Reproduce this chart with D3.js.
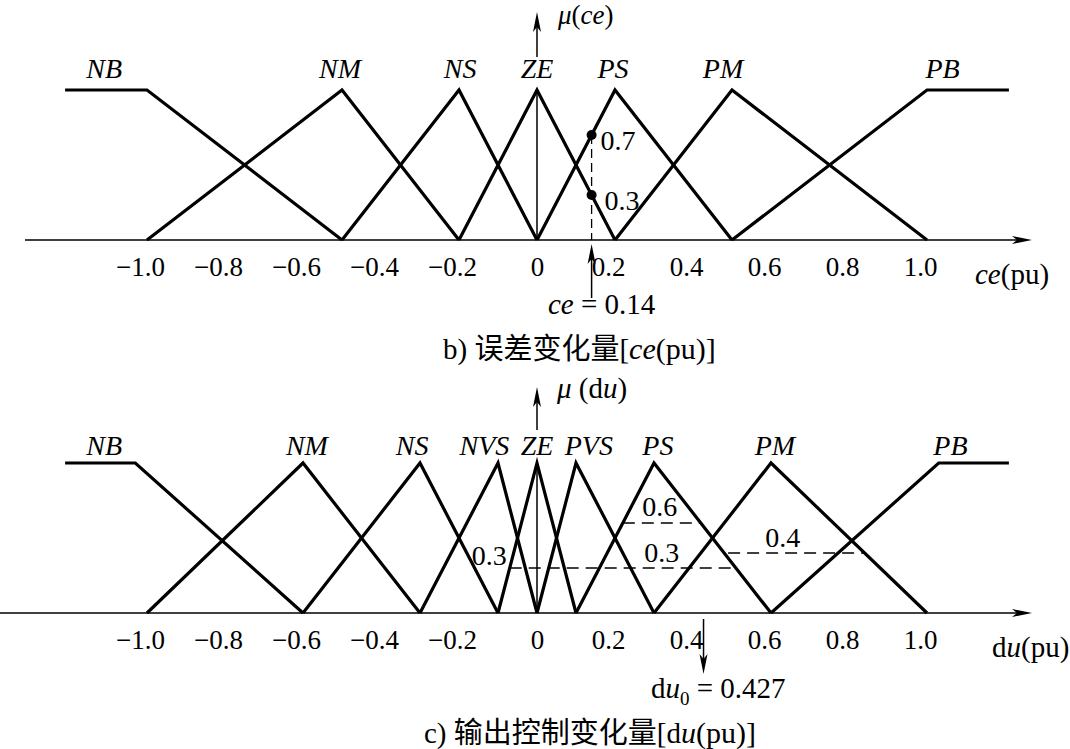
<!DOCTYPE html>
<html lang="zh">
<head>
  <meta charset="UTF-8">
  <title>Fuzzy membership functions</title>
  <style>
    body { margin: 0; background: #fff; }
    svg { display: block; }
    text { font-family: "Liberation Serif", "Noto Sans CJK SC", serif; fill: #000; }
    .it { font-style: italic; }
    .tick text { font-size: 27px; }
  </style>
</head>
<body>
  <svg id="chart" width="1070" height="749"></svg>

  <script src="https://cdn.jsdelivr.net/npm/d3@7"></script>
  <script type="text/javascript">

    // ---- panel b: ce ----
    var ceTicks = [-1.0, -0.8, -0.6, -0.4, -0.2, 0, 0.2, 0.4, 0.6, 0.8, 1.0];
    var ceNames = ["NB", "NM", "NS", "ZE", "PS", "PM", "PB"];
    var ceSets = [
      [[-1.21, 1], [-1.0, 1], [-0.5, 0]],
      [[-1.0, 0], [-0.5, 1], [-0.2, 0]],
      [[-0.5, 0], [-0.2, 1], [0, 0]],
      [[-0.2, 0], [0, 1], [0.2, 0]],
      [[0, 0], [0.2, 1], [0.5, 0]],
      [[0.2, 0], [0.5, 1], [1.0, 0]],
      [[0.5, 0], [1.0, 1], [1.21, 1]]
    ];
    var ceLabelAt = [-1.11, -0.505, -0.197, 0, 0.195, 0.477, 1.04];
    var ceInput = 0.14;
    var ceHits = [0.7, 0.3];

    // ---- panel c: du ----
    var duTicks = [-1.0, -0.8, -0.6, -0.4, -0.2, 0, 0.2, 0.4, 0.6, 0.8, 1.0];
    var duNames = ["NB", "NM", "NS", "NVS", "ZE", "PVS", "PS", "PM", "PB"];
    var duSets = [
      [[-1.21, 1], [-1.03, 1], [-0.6, 0]],
      [[-1.0, 0], [-0.6, 1], [-0.3, 0]],
      [[-0.6, 0], [-0.3, 1], [-0.1, 0]],
      [[-0.3, 0], [-0.1, 1], [0, 0]],
      [[-0.1, 0], [0, 1], [0.1, 0]],
      [[0, 0], [0.1, 1], [0.3, 0]],
      [[0.1, 0], [0.3, 1], [0.6, 0]],
      [[0.3, 0], [0.6, 1], [1.0, 0]],
      [[0.6, 0], [1.03, 1], [1.21, 1]]
    ];
    var duLabelAt = [-1.11, -0.59, -0.32, -0.135, 0, 0.133, 0.31, 0.61, 1.06];
    var cutLevel = [0.3, 0.6, 0.4];
    var cutFrom = [-0.07, 0.22, 0.49];
    var cutTo = [0.51, 0.42, 0.84];
    var duOut = 0.427;

    var svg = d3.select("#chart");
    var x = d3.scaleLinear().domain([-1, 1]).range([147, 927]);
    var fmt = function (d) { return d === 0 ? "0" : d3.format(".1f")(d); };

    function arrow(g, ax, ay, dir) {
      var L = 20, W = 4, n = 15, pts;
      if (dir === "right") pts = [[ax, ay], [ax - L, ay - W], [ax - n, ay], [ax - L, ay + W]];
      if (dir === "up") pts = [[ax, ay], [ax - W, ay + L], [ax, ay + n], [ax + W, ay + L]];
      if (dir === "down") pts = [[ax, ay], [ax - W, ay - L], [ax, ay - n], [ax + W, ay - L]];
      g.append("path").attr("d", "M" + pts.join("L") + "Z").attr("fill", "#000");
    }

    function vline(g, xx, y1, y2, w) {
      g.append("line").attr("x1", xx).attr("x2", xx).attr("y1", y1).attr("y2", y2)
        .attr("stroke", "#000").attr("stroke-width", w || 1.5);
    }

    function drawPanel(p) {
      var y = d3.scaleLinear().domain([0, 1]).range([p.base, p.base - 150]);
      var g = svg.append("g");

      // horizontal axis
      g.append("line").attr("x1", p.axisStart).attr("x2", 1020)
        .attr("y1", y(0)).attr("y2", y(0)).attr("stroke", "#000").attr("stroke-width", 1.6);
      arrow(g, 1032, y(0), "right");

      // vertical axis, broken round the ZE label
      vline(g, x(0), y(0), y(1));
      vline(g, x(0), p.yTop + 10, y(1) - 33);
      arrow(g, x(0), p.yTop, "up");

      var ax = g.append("g").attr("transform", "translate(0," + y(0) + ")")
        .call(d3.axisBottom(x).tickValues(p.ticks).tickSize(0).tickFormat(fmt));
      ax.select(".domain").remove();
      ax.selectAll(".tick text").attr("dy", null).attr("y", 36)
        .attr("dx", function (d) { return d === 0 ? 0 : -7; });

      var line = d3.line().x(function (d) { return x(d[0]); }).y(function (d) { return y(d[1]); });
      g.selectAll(".mf").data(p.sets).join("path")
        .attr("class", "mf")
        .attr("d", line)
        .attr("fill", "none").attr("stroke", "#000").attr("stroke-width", 3.2)
        .attr("stroke-linejoin", "miter");

      g.selectAll(".mf-label").data(p.names).join("text")
        .attr("class", "mf-label it")
        .attr("x", function (d, i) { return x(p.labelAt[i]); })
        .attr("y", y(1) - p.labelGap)
        .attr("text-anchor", "middle")
        .style("font-size", "28px")
        .text(function (d) { return d; });

      return { g: g, y: y };
    }

    function title(g, tx, ty, cjk, it, tail) {
      var t = g.append("text").attr("x", tx).attr("y", ty).style("font-size", "30px");
      t.append("tspan").style("font-size", "29px").text(cjk);
      t.append("tspan").attr("class", "it").text(it);
      t.append("tspan").text(tail);
    }

    // ---------- panel b ----------
    var b = drawPanel({ base: 240, yTop: 12, axisStart: 25, ticks: ceTicks, sets: ceSets, names: ceNames, labelAt: ceLabelAt, labelGap: 12 });
    var gb = b.g, yb = b.y;

    gb.append("line").attr("x1", x(ceInput)).attr("x2", x(ceInput))
      .attr("y1", yb(ceHits[0])).attr("y2", yb(0))
      .attr("stroke", "#000").attr("stroke-width", 1.3).attr("stroke-dasharray", "9,5");
    vline(gb, x(ceInput), yb(0) + 18, 298, 1.5);
    arrow(gb, x(ceInput), yb(0) + 4, "up");

    gb.selectAll(".hit").data(ceHits).join("circle")
      .attr("cx", x(ceInput)).attr("cy", function (d) { return yb(d); }).attr("r", 5);
    gb.selectAll(".hit-label").data(ceHits).join("text")
      .attr("x", function (d, i) { return x(ceInput) + (i === 0 ? 9 : 13); })
      .attr("y", function (d) { return yb(d) + 15; })
      .style("font-size", "28px")
      .text(function (d) { return d3.format(".1f")(d); });

    var ceTxt = gb.append("text").attr("x", x(ceInput) + 10).attr("y", 314)
      .attr("text-anchor", "middle").style("font-size", "29px");
    ceTxt.append("tspan").attr("class", "it").text("ce");
    ceTxt.append("tspan").text(" = " + ceInput);

    var muB = gb.append("text").attr("x", 558).attr("y", 24).style("font-size", "27px");
    muB.append("tspan").attr("class", "it").text("μ");
    muB.append("tspan").text("(");
    muB.append("tspan").attr("class", "it").text("ce");
    muB.append("tspan").text(")");

    var axB = gb.append("text").attr("x", 975).attr("y", 284).style("font-size", "29px");
    axB.append("tspan").attr("class", "it").text("ce");
    axB.append("tspan").text("(pu)");

    title(gb, 443, 359, "b) 误差变化量[", "ce", "(pu)]");

    // ---------- panel c ----------
    var c = drawPanel({ base: 613, yTop: 387, axisStart: 0, ticks: duTicks, sets: duSets, names: duNames, labelAt: duLabelAt, labelGap: 8 });
    var gc = c.g, yc = c.y;

    gc.selectAll(".cut").data(cutLevel).join("line")
      .attr("x1", function (d, i) { return x(cutFrom[i]); })
      .attr("x2", function (d, i) { return x(cutTo[i]); })
      .attr("y1", function (d) { return yc(d); })
      .attr("y2", function (d) { return yc(d); })
      .attr("stroke", "#000").attr("stroke-width", 1.3).attr("stroke-dasharray", "12,7");

    // labels of the clipping levels
    var cutText = [
      { v: cutLevel[0], x: x(cutFrom[0]) - 38, dy: -3 },
      { v: cutLevel[0], x: x(0.275), dy: -6 },
      { v: cutLevel[1], x: x(0.27), dy: -7 },
      { v: cutLevel[2], x: x(0.585), dy: -6 }
    ];
    gc.selectAll(".cut-label").data(cutText).join("text")
      .attr("x", function (d) { return d.x; })
      .attr("y", function (d) { return yc(d.v) + d.dy; })
      .style("font-size", "28px")
      .text(function (d) { return d3.format(".1f")(d.v); });

    vline(gc, x(duOut), yc(0) + 6, 660, 1.5);
    arrow(gc, x(duOut), 674, "down");

    var duTxt = gc.append("text").attr("x", 651).attr("y", 698).style("font-size", "29px");
    duTxt.append("tspan").text("d");
    duTxt.append("tspan").attr("class", "it").text("u");
    duTxt.append("tspan").attr("dy", 7).style("font-size", "19px").text("0");
    duTxt.append("tspan").attr("dy", -7).text(" = " + duOut);

    var muC = gc.append("text").attr("x", 557).attr("y", 398).style("font-size", "29px");
    muC.append("tspan").attr("class", "it").text("μ");
    muC.append("tspan").text(" (d");
    muC.append("tspan").attr("class", "it").text("u");
    muC.append("tspan").text(")");

    var axC = gc.append("text").attr("x", 992).attr("y", 657).style("font-size", "29px");
    axC.append("tspan").text("d");
    axC.append("tspan").attr("class", "it").text("u");
    axC.append("tspan").text("(pu)");

    title(gc, 424, 743, "c) 输出控制变化量[d", "u", "(pu)]");
  </script>
</body>
</html>
